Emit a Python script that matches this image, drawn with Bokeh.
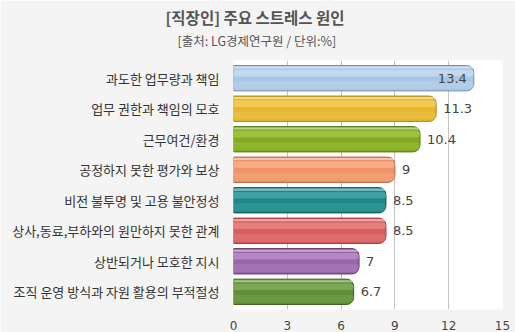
from bokeh.plotting import figure
from bokeh.models import ColumnDataSource, FixedTicker, Range1d, Title
from bokeh.core.properties import value
from bokeh.embed import file_html
from bokeh.resources import INLINE

# ---- data ----
categories = [
    "과도한 업무량과 책임",
    "업무 권한과 책임의 모호",
    "근무여건/환경",
    "공정하지 못한 평가와 보상",
    "비전 불투명 및 고용 불안정성",
    "상사,동료,부하와의 원만하지 못한 관계",
    "상반되거나 모호한 지시",
    "조직 운영 방식과 자원 활용의 부적절성",
]
values = [13.4, 11.3, 10.4, 9, 8.5, 8.5, 7, 6.7]
value_labels = ["13.4", "11.3", "10.4", "9", "8.5", "8.5", "7", "6.7"]
x_ticks = [0, 3, 6, 9, 12, 15]
title_text = "[직장인] 주요 스트레스 원인"
subtitle_text = "[출처: LG경제연구원 / 단위:%]"

# ---- styles ----
mid_colors = ["#a9c6e3", "#e6b72c", "#84ab20", "#ef9468", "#1d8888", "#d85e5e", "#9866a8", "#628e37"]
dark_colors = ["#6f8fb0", "#a8861a", "#58780f", "#b66a45", "#0b5959", "#9e3737", "#5c386a", "#3d5d1f"]
light_colors = ["#dbe9f7", "#f7dc78", "#b6d65a", "#fcc6a6", "#62b9b9", "#f2a0a0", "#cfa6db", "#98c070"]

n = len(categories)
ys = [n - 1 - i for i in range(n)]
H = 0.83
KR = "Noto Sans CJK KR"

p = figure(width=515, height=332, output_backend="svg", toolbar_location=None, title=None,
           x_range=Range1d(0, 15), y_range=Range1d(-0.58, 7.58),
           min_border_left=233, min_border_right=13, min_border_top=60, min_border_bottom=22)
p.background_fill_color = "white"
p.border_fill_color = "#f4f4f4"
p.outline_line_color = None

src = ColumnDataSource(dict(
    y=ys, v=values, lab=value_labels, mid=mid_colors, dark=dark_colors, light=light_colors,
    y_hi=[y + H * 0.2 for y in ys],
    y_lo=[y - H * 0.27 for y in ys],
    y_top=[y + H * 0.42 for y in ys],
    align=["right" if v > 12 else "left" for v in values],
    xoff=[-7 if v > 12 else 7 for v in values],
))

p.hbar(y="y", left=0, right="v", height=H, source=src, fill_color="mid",
       line_color="dark", line_width=1, border_radius=(0, 7, 7, 0))
p.hbar(y="y_hi", left=0, right="v", height=H * 0.26, source=src, fill_color="light",
       fill_alpha=0.5, line_color=None, border_radius=(0, 5, 5, 0))
p.hbar(y="y_top", left=0, right="v", height=H * 0.08, source=src, fill_color="white",
       fill_alpha=0.45, line_color=None, border_radius=(0, 3, 3, 0))
p.hbar(y="y_lo", left=0, right="v", height=H * 0.3, source=src, fill_color="light",
       fill_alpha=0.22, line_color=None, border_radius=(0, 6, 6, 0))

p.text(x="v", y="y", text="lab", x_offset="xoff", text_align="align", text_baseline="middle",
       source=src, text_font=value("DejaVu Sans"), text_font_size="13px", text_color="#444444")

# axes
p.xaxis.ticker = FixedTicker(ticks=x_ticks)
p.xaxis.axis_line_color = None
p.xaxis.major_tick_line_color = None
p.xaxis.minor_tick_line_color = None
p.xaxis.major_label_text_font = "DejaVu Sans"
p.xaxis.major_label_text_font_size = "12px"
p.xaxis.major_label_text_color = "#444444"
p.xaxis.major_label_standoff = 5

p.yaxis.ticker = FixedTicker(ticks=ys)
p.yaxis.major_label_overrides = {y: c for y, c in zip(ys, categories)}
p.yaxis.axis_line_color = None
p.yaxis.major_tick_line_color = None
p.yaxis.minor_tick_line_color = None
p.yaxis.major_label_text_font = KR
p.yaxis.major_label_text_font_size = "13px"
p.yaxis.major_label_text_color = "#333333"
p.yaxis.major_label_standoff = 8

p.xgrid.ticker = FixedTicker(ticks=x_ticks)
p.xgrid.grid_line_color = "#c4c4c4"
p.ygrid.grid_line_color = None

# spacer, subtitle, title (stacked outward from the plot frame)
p.add_layout(Title(text=" ", text_font_size="1px", standoff=7), "above")
p.add_layout(Title(text=subtitle_text, align="left", offset=-56, text_font=KR,
                   text_font_size="12.5px", text_font_style="normal", text_color="#555555",
                   standoff=2), "above")
p.add_layout(Title(text=title_text, align="left", offset=-68, text_font=KR,
                   text_font_size="15.5px", text_font_style="bold", text_color="#555555",
                   standoff=0), "above")

open("out.html", "w").write(file_html(p, INLINE))
